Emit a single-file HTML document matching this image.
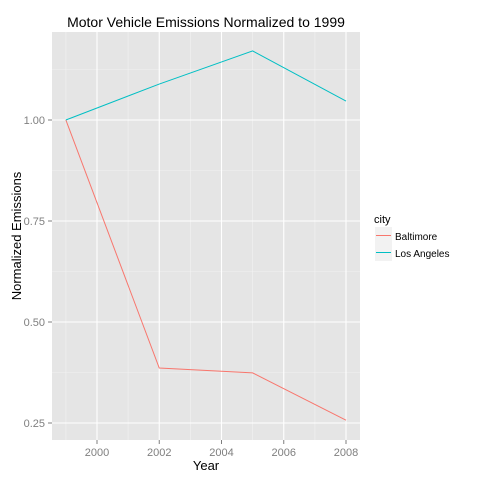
<!DOCTYPE html>
<html><head><meta charset="utf-8"><style>body{margin:0;background:#fff}svg{display:block;font-family:"Liberation Sans",sans-serif}</style></head>
<body>
<svg id="c" width="480" height="480"></svg>
<script>
const years=[1999,2002,2005,2008];
const baltimore=[1.0,0.386,0.374,0.257];
const losAngeles=[1.0,1.089,1.171,1.047];
const xTicks=[2000,2002,2004,2006,2008];
const yTicks=[0.25,0.50,0.75,1.00];
const ns="http://www.w3.org/2000/svg",svg=document.getElementById('c');
const L=52,R=360,T=32,B=440;
const x=v=>97+(v-2000)*(346-97)/8;
const y=v=>120+(1-v)*(423-120)/0.75;
function el(t,a,p){const e=document.createElementNS(ns,t);for(const k in a)e.setAttribute(k,a[k]);(p||svg).appendChild(e);return e;}
const panel=el('rect',{x:L,y:T,width:R-L,height:B-T,fill:'#e5e5e5'});


for(let i=0;i<xTicks.length+1;i++){const v=1999+2*i;if(x(v)>L&&x(v)<R){const g=el('line',{x1:x(v),x2:x(v),y1:T,y2:B,stroke:'#f2f2f2','stroke-width':0.6});}}
for(let i=0;i<yTicks.length+1;i++){const v=0.375+0.25*i;if(y(v)>T&&y(v)<B){const g=el('line',{x1:L,x2:R,y1:y(v),y2:y(v),stroke:'#f2f2f2','stroke-width':0.6});}}
xTicks.forEach(v=>{const g=el('line',{x1:x(v),x2:x(v),y1:T,y2:B,stroke:'#fff','stroke-width':1.1});
const t=el('line',{x1:x(v),x2:x(v),y1:B,y2:B+4,stroke:'#7f7f7f'});
const l=el('text',{x:x(v),y:B+16,'text-anchor':'middle','font-size':11,fill:'#7f7f7f'});l.textContent=v;});
yTicks.forEach(v=>{const g=el('line',{x1:L,x2:R,y1:y(v),y2:y(v),stroke:'#fff','stroke-width':1.1});
const t=el('line',{x1:L-4,x2:L,y1:y(v),y2:y(v),stroke:'#7f7f7f'});
const l=el('text',{x:L-7,y:y(v)+4,'text-anchor':'end','font-size':11,fill:'#7f7f7f'});l.textContent=v.toFixed(2);});
function series(vals,col,name){const p=el('polyline',{points:years.map((yr,i)=>x(yr)+','+y(vals[i])).join(' '),fill:'none',stroke:col,'stroke-width':1});}
series(baltimore,'#f8766d','baltimore-line');
series(losAngeles,'#00bfc4','los-angeles-line');
let t=el('text',{x:206,y:27,'text-anchor':'middle','font-size':14,fill:'#000'});t.textContent='Motor Vehicle Emissions Normalized to 1999';
t=el('text',{x:206,y:470,'text-anchor':'middle','font-size':13,fill:'#000'});t.textContent='Year';
t=el('text',{x:0,y:0,'text-anchor':'middle','font-size':13,fill:'#000',transform:'translate(21,236) rotate(-90)'});t.textContent='Normalized Emissions';
t=el('text',{x:374,y:223,'font-size':11,fill:'#000'});t.textContent='city';
[['Baltimore','#f8766d',227],['Los Angeles','#00bfc4',244]].forEach(([n,c,yy])=>{const g=el('g',{});
el('rect',{x:375,y:yy,width:17,height:17,fill:'#f2f2f2'},g);el('line',{x1:376,x2:391,y1:yy+8.5,y2:yy+8.5,stroke:c},g);
const l=el('text',{x:395,y:yy+13,'font-size':10,fill:'#000'},g);l.textContent=n;});
</script>
</body></html>
